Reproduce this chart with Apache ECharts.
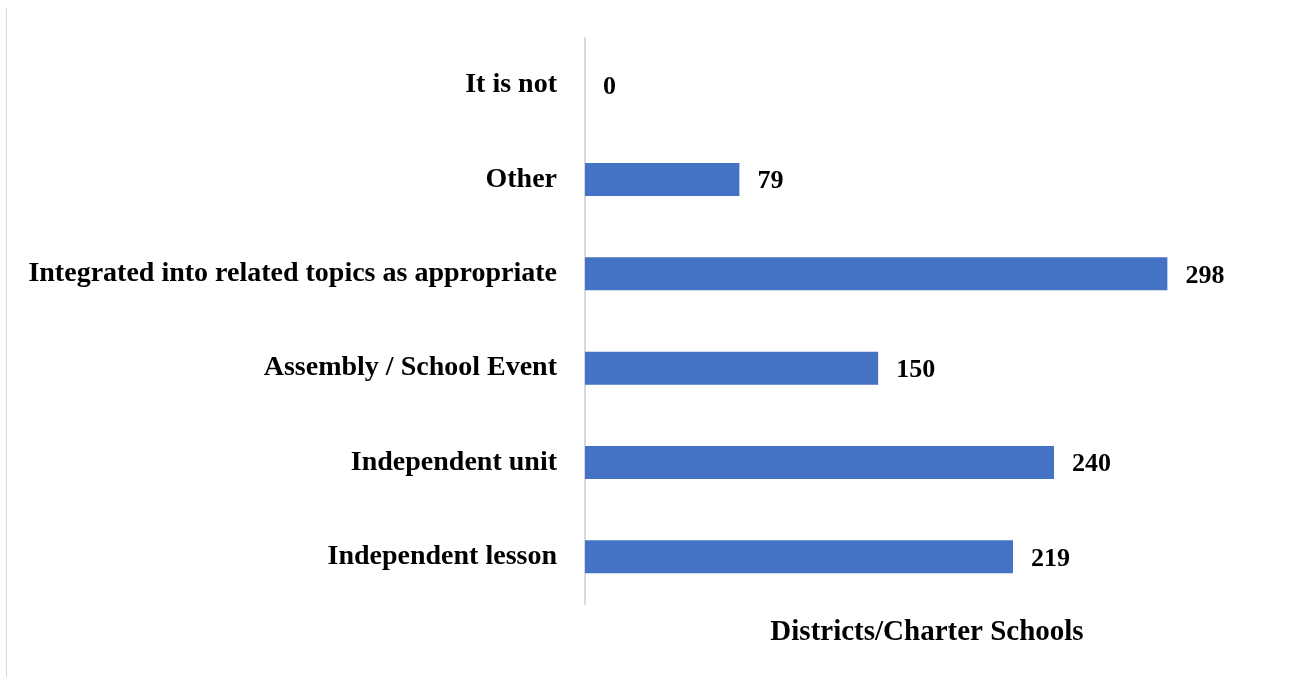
<!DOCTYPE html>
<html>
<head>
<meta charset="utf-8">
<script src="https://cdn.jsdelivr.net/npm/echarts@6/dist/echarts.min.js"></script>
<style>
  html, body { margin: 0; padding: 0; background: #fff; }
  #chart { width: 1302px; height: 677px; }
</style>
</head>
<body>
<div id="chart"></div>
<script>
// Categories listed bottom-to-top along the category axis
const categories = [
  'Independent lesson',
  'Independent unit',
  'Assembly / School Event',
  'Integrated into related topics as appropriate',
  'Other',
  'It is not'
];
const counts = [219, 240, 150, 298, 79, 0];
const axisTitle = 'Districts/Charter Schools';

const FONT = '"Liberation Serif", "DejaVu Serif", serif';

const chart = echarts.init(document.getElementById('chart'));
chart.setOption({
  animation: false,
  backgroundColor: '#ffffff',
  textStyle: { fontFamily: FONT },
  grid: { left: 585, right: 33, top: 38, bottom: 73, containLabel: false },
  graphic: [{
    type: 'line',
    shape: { x1: 6.5, y1: 8, x2: 6.5, y2: 677 },
    style: { stroke: '#d9d9d9', lineWidth: 1 },
    silent: true
  }],
  xAxis: {
    type: 'value',
    min: 0,
    max: 350,
    axisLine: { show: false },
    axisTick: { show: false },
    axisLabel: { show: false },
    splitLine: { show: false },
    name: axisTitle,
    nameLocation: 'middle',
    nameGap: 14,
    nameTextStyle: {
      fontFamily: FONT, fontWeight: 'bold', fontSize: 29, color: '#000',
      verticalAlign: 'top'
    }
  },
  yAxis: {
    type: 'category',
    data: categories,
    axisLine: { show: true, lineStyle: { color: '#d9d9d9', width: 2 } },
    axisTick: { show: false },
    axisLabel: {
      margin: 28,
      padding: [4, 0, 0, 0],
      fontFamily: FONT, fontWeight: 'bold', fontSize: 28, color: '#000'
    }
  },
  series: [{
    type: 'bar',
    data: counts,
    barWidth: 33,
    itemStyle: { color: '#4472C4' },
    label: {
      show: true,
      position: 'right',
      distance: 18,
      offset: [0, 2],
      fontFamily: FONT, fontWeight: 'bold', fontSize: 26, color: '#000'
    }
  }]
});
</script>
</body>
</html>
